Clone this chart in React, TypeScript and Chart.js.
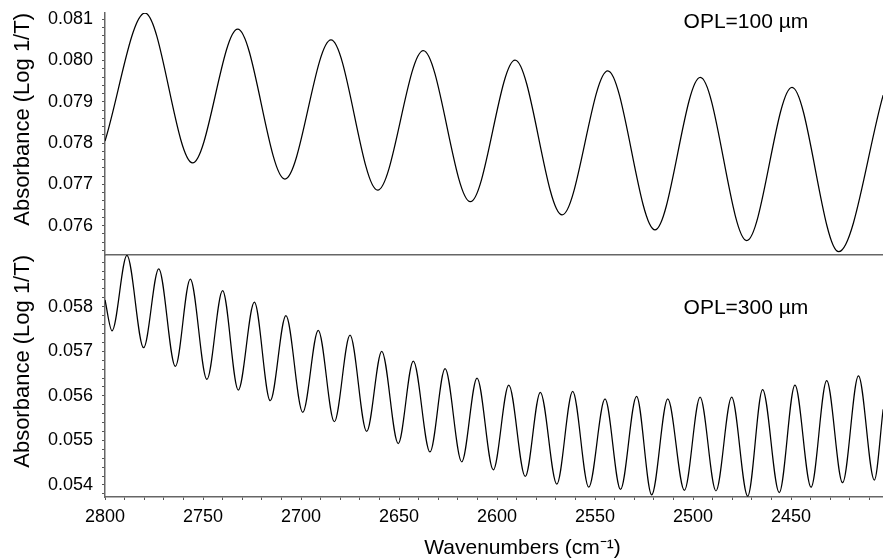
import React, { useEffect, useRef } from 'react';
import { Chart, registerables } from 'chart.js';

Chart.register(...registerables);

// ---- Data (extrema of the fringe patterns) ----
const topWavenumbers = [
  2800, 2779.6, 2755.3, 2732.3, 2708.2, 2684.7, 2660.9, 2637.6, 2613.6,
  2590.8, 2566.8, 2543.5, 2519.4, 2496.3, 2472.6, 2449.5, 2425.7, 2403,
];
const topAbsorbance = [
  0.07805, 0.08115, 0.07752, 0.08076, 0.07713, 0.0805, 0.07686, 0.08024, 0.07658,
  0.08001, 0.07626, 0.07975, 0.0759, 0.07959, 0.07564, 0.07935, 0.07537, 0.07916,
];

const bottomWavenumbers = [
  2800, 2796.4, 2788.8, 2780.3, 2772.6, 2764.1, 2756.5, 2748, 2740, 2732,
  2723.8, 2715.7, 2707.7, 2699.1, 2691.2, 2683, 2675, 2666.5, 2658.8, 2650.4,
  2642.7, 2634.2, 2626.5, 2618, 2610.2, 2601.9, 2594, 2585.6, 2577.9, 2569.5,
  2561.4, 2553.2, 2544.9, 2537, 2528.8, 2521.1, 2512.9, 2504.4, 2496.4, 2488.3,
  2480.3, 2472.1, 2464.5, 2456, 2448, 2439.8, 2431.8, 2423.7, 2415.6, 2407.5, 2403,
];
const bottomAbsorbance = [
  0.05815, 0.05746, 0.05915, 0.05708, 0.05885, 0.05666, 0.05862, 0.05637, 0.05836, 0.05613,
  0.0581, 0.05589, 0.0578, 0.05563, 0.05747, 0.05542, 0.05736, 0.0552, 0.057, 0.05493,
  0.05678, 0.05474, 0.05661, 0.05452, 0.0564, 0.05434, 0.05624, 0.05419, 0.05608, 0.05402,
  0.0561, 0.05395, 0.05593, 0.0539, 0.05599, 0.05378, 0.05593, 0.05388, 0.05597, 0.05387,
  0.05597, 0.05375, 0.05614, 0.05383, 0.05624, 0.05395, 0.05634, 0.05405, 0.05645, 0.05411, 0.0557,
];

const xTickLabels = [2800, 2750, 2700, 2650, 2600, 2550, 2500, 2450];
const topYTickLabels = ['0.076', '0.077', '0.078', '0.079', '0.080', '0.081'];
const bottomYTickLabels = ['0.054', '0.055', '0.056', '0.057', '0.058'];
// The original plot continues past the cropped right edge of the picture.
const xRange = [2374, 2800];
const topYRange = [0.07529, 0.08115];
const bottomYRange = [0.05373, 0.05916];
const panelLabels = ['OPL=100 µm', 'OPL=300 µm'];
const panelLabelAt = [
  [2473, 0.08093],
  [2473, 0.05796],
];

const FAMILY = "'Liberation Sans', Arial, Helvetica, sans-serif";
Chart.defaults.font.family = FAMILY;

const PLOT_W = 940;

const panelLabelPlugin = {
  id: 'panelLabel',
  afterDatasetsDraw(chart: any, _args: any, opts: any) {
    if (!opts || !opts.text) return;
    const { ctx, scales } = chart;
    const px = scales.x.getPixelForValue(opts.x);
    const py = scales.y.getPixelForValue(opts.y);
    ctx.save();
    ctx.font = `21px ${FAMILY}`;
    ctx.fillStyle = '#000';
    ctx.textAlign = 'center';
    ctx.textBaseline = 'middle';
    ctx.fillText(opts.text, px, py);
    ctx.restore();
  },
};

function zeroPadding(s: any) {
  s.paddingTop = 0;
  s.paddingBottom = 0;
  s.paddingLeft = 0;
  s.paddingRight = 0;
}

function makeChart(
  canvas: HTMLCanvasElement,
  isTop: boolean,
  wn: number[],
  abs: number[],
  yRange: number[],
  yLabels: string[],
  label: string,
  labelAt: number[]
) {
  return new Chart(canvas, {
    type: 'line',
    data: {
      datasets: [
        {
          data: wn.map((x, i) => ({ x, y: abs[i] })),
          borderColor: '#000',
          borderWidth: 1.25,
          pointRadius: 0,
          fill: false,
          cubicInterpolationMode: 'monotone',
        } as any,
      ],
    },
    plugins: [panelLabelPlugin as any],
    options: {
      responsive: false,
      animation: false,
      events: [],
      layout: {
        padding: { top: isTop ? 13 : 0, left: 0, right: 0, bottom: 0 },
        autoPadding: false,
      },
      plugins: {
        legend: { display: false },
        tooltip: { enabled: false },
        panelLabel: { text: label, x: labelAt[0], y: labelAt[1] },
      } as any,
      scales: {
        x: {
          type: 'linear',
          reverse: true,
          min: xRange[0],
          max: xRange[1],
          afterFit: (s: any) => {
            s.height = isTop ? 1 : 63;
            zeroPadding(s);
          },
          grid: {
            display: !isTop,
            drawOnChartArea: false,
            drawTicks: true,
            tickLength: 3,
            color: '#555',
          },
          border: { display: true, color: '#666', width: 1.5 },
          ticks: {
            display: !isTop,
            stepSize: 10,
            autoSkip: false,
            includeBounds: false,
            maxRotation: 0,
            minRotation: 0,
            padding: 6,
            color: '#000',
            font: { size: 18 },
            callback: (v: any) => (xTickLabels.includes(Math.round(Number(v))) && Math.abs(Number(v) - Math.round(Number(v))) < 1e-6 ? String(Math.round(Number(v))) : ''),
          },
          title: {
            display: !isTop,
            text: 'Wavenumbers (cm⁻¹)',
            color: '#000',
            font: { size: 21, lineHeight: 1 },
            padding: { top: 0, bottom: 1 },
          },
        },
        y: {
          type: 'linear',
          min: yRange[0],
          max: yRange[1],
          afterFit: (s: any) => {
            s.width = 105;
            zeroPadding(s);
          },
          grid: {
            display: true,
            drawOnChartArea: false,
            drawTicks: true,
            tickLength: 3,
            color: '#555',
          },
          border: { display: true, color: '#666', width: 1.5 },
          ticks: {
            stepSize: 0.0002,
            autoSkip: false,
            includeBounds: false,
            padding: 9,
            color: '#000',
            font: { size: 18 },
            callback: (v: any) => {
              const s = (Math.round(Number(v) * 10000) / 10000).toFixed(3);
              const k = Math.round(Number(v) * 10000);
              return k % 10 === 0 && yLabels.includes(s) ? s : '';
            },
          },
          title: {
            display: true,
            text: 'Absorbance (Log 1/T)',
            align: 'end',
            color: '#000',
            font: { size: 22 },
            padding: { top: 10, bottom: 0 },
          },
        },
      },
    } as any,
  });
}

export default function App() {
  const topRef = useRef<HTMLCanvasElement>(null);
  const bottomRef = useRef<HTMLCanvasElement>(null);

  useEffect(() => {
    const c1 = makeChart(topRef.current!, true, topWavenumbers, topAbsorbance, topYRange, topYTickLabels, panelLabels[0], panelLabelAt[0]);
    const c2 = makeChart(bottomRef.current!, false, bottomWavenumbers, bottomAbsorbance, bottomYRange, bottomYTickLabels, panelLabels[1], panelLabelAt[1]);
    return () => {
      c1.destroy();
      c2.destroy();
    };
  }, []);

  return (
    <div
      style={{
        position: 'fixed',
        left: 0,
        top: 0,
        width: 883,
        height: 560,
        background: '#fff',
        overflow: 'hidden',
      }}
    >
      <canvas
        ref={topRef}
        width={PLOT_W}
        height={256}
        style={{ position: 'absolute', left: 0, top: 0, width: PLOT_W, height: 256, display: 'block' }}
      />
      <canvas
        ref={bottomRef}
        width={PLOT_W}
        height={305}
        style={{ position: 'absolute', left: 0, top: 255, width: PLOT_W, height: 305, display: 'block' }}
      />
    </div>
  );
}
